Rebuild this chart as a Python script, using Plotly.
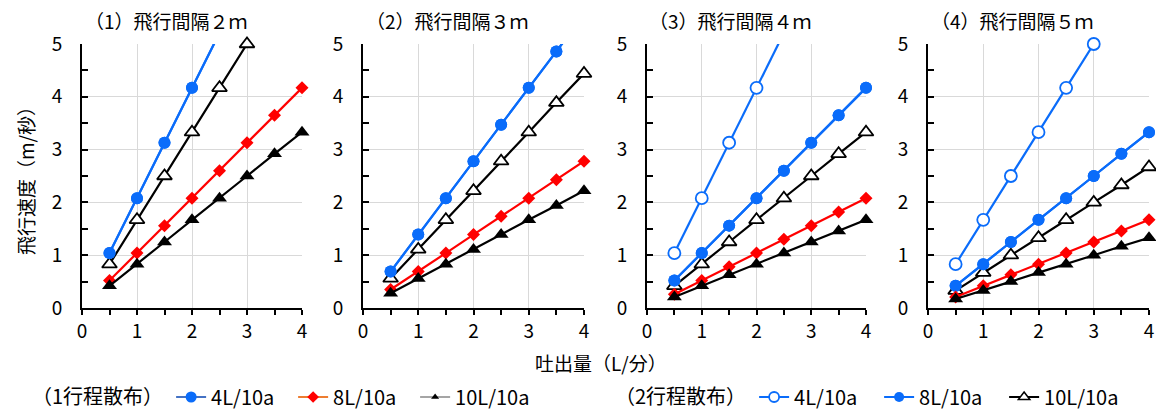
import plotly.graph_objects as go

# ---------------- data ----------------
x_flow = [0.5, 1.0, 1.5, 2.0, 2.5, 3.0, 3.5, 4.0]
panel_titles = ["（1）飛行間隔２ｍ", "（2）飛行間隔３ｍ", "（3）飛行間隔４ｍ", "（4）飛行間隔５ｍ"]
y_ticks = [0, 1, 2, 3, 4, 5]
x_ticks = [0, 1, 2, 3, 4]

# 1行程散布
one_4L = [
    [1.04, 2.08, 3.13, 4.17, 5.21, None, None, None],
    [0.69, 1.39, 2.08, 2.78, 3.47, 4.17, 4.86, 5.56],
    [0.52, 1.04, 1.56, 2.08, 2.60, 3.13, 3.65, 4.17],
    [0.42, 0.83, 1.25, 1.67, 2.08, 2.50, 2.92, 3.33],
]
one_8L = [
    [0.52, 1.04, 1.56, 2.08, 2.60, 3.13, 3.65, 4.17],
    [0.35, 0.69, 1.04, 1.39, 1.74, 2.08, 2.43, 2.78],
    [0.26, 0.52, 0.78, 1.04, 1.30, 1.56, 1.82, 2.08],
    [0.21, 0.42, 0.63, 0.83, 1.04, 1.25, 1.46, 1.67],
]
one_10L = [
    [0.42, 0.83, 1.25, 1.67, 2.08, 2.50, 2.92, 3.33],
    [0.28, 0.56, 0.83, 1.11, 1.39, 1.67, 1.94, 2.22],
    [0.21, 0.42, 0.63, 0.83, 1.04, 1.25, 1.46, 1.67],
    [0.17, 0.33, 0.50, 0.67, 0.83, 1.00, 1.17, 1.33],
]
# 2行程散布
two_4L = [
    None,
    None,
    [1.04, 2.08, 3.13, 4.17, 5.21, None, None, None],
    [0.83, 1.67, 2.50, 3.33, 4.17, 5.00, 5.83, None],
]
two_8L = [
    [1.04, 2.08, 3.13, 4.17, 5.21, None, None, None],
    [0.69, 1.39, 2.08, 2.78, 3.47, 4.17, 4.86, 5.56],
    [0.52, 1.04, 1.56, 2.08, 2.60, 3.13, 3.65, 4.17],
    [0.42, 0.83, 1.25, 1.67, 2.08, 2.50, 2.92, 3.33],
]
two_10L = [
    [0.83, 1.67, 2.50, 3.33, 4.17, 5.00, 5.83, None],
    [0.56, 1.11, 1.67, 2.22, 2.78, 3.33, 3.89, 4.44],
    [0.42, 0.83, 1.25, 1.67, 2.08, 2.50, 2.92, 3.33],
    [0.33, 0.67, 1.00, 1.33, 1.67, 2.00, 2.33, 2.67],
]

# ---------------- styling ----------------
FONT = "Noto Sans CJK JP"
BLUE = "#0A6CFA"
RED = "#FF0000"
BLACK = "#000000"
Y_MAX = 5

W, H = 1156, 412
L_PX, R_PX, T_PX, B_PX = 82, 1149, 44, 308
plot_w = R_PX - L_PX
plot_h = B_PX - T_PX
panel_px = [(82, 302), (363, 584), (647, 866), (928, 1149)]
domains = [[(a - L_PX) / plot_w, (b - L_PX) / plot_w] for a, b in panel_px]


def px_x(p):
    return (p - L_PX) / plot_w


def px_y(p):
    return (B_PX - p) / plot_h


fig = go.Figure()

styles = {
    "two_10L": dict(line=dict(color=BLACK, width=2.2),
                    marker=dict(symbol="triangle-up", size=13, color="white",
                                line=dict(color=BLACK, width=1.8))),
    "two_4L": dict(line=dict(color=BLUE, width=2.2),
                   marker=dict(symbol="circle", size=12, color="white",
                               line=dict(color=BLUE, width=1.8))),
    "two_8L": dict(line=dict(color=BLUE, width=2.2),
                   marker=dict(symbol="circle", size=12, color=BLUE,
                               line=dict(color=BLUE, width=0))),
    "one_4L": dict(line=dict(color=BLUE, width=2.2),
                   marker=dict(symbol="circle", size=12, color=BLUE,
                               line=dict(color=BLUE, width=0))),
    "one_8L": dict(line=dict(color=RED, width=2.2),
                   marker=dict(symbol="diamond", size=10, color=RED,
                               line=dict(color=RED, width=0))),
    "one_10L": dict(line=dict(color=BLACK, width=2.2),
                    marker=dict(symbol="triangle-up", size=13, color=BLACK,
                                line=dict(color=BLACK, width=0))),
}
series_order = [("two_10L", two_10L), ("two_4L", two_4L), ("two_8L", two_8L),
                ("one_4L", one_4L), ("one_8L", one_8L), ("one_10L", one_10L)]

for i in range(4):
    xa = "x" if i == 0 else f"x{i+1}"
    ya = "y" if i == 0 else f"y{i+1}"
    for key, data in series_order:
        vals = data[i]
        if vals is None:
            continue
        st = styles[key]
        mk = dict(st["marker"])
        mk["opacity"] = [1 if (v is not None and v <= Y_MAX + 1e-6) else 0 for v in vals]
        fig.add_trace(go.Scatter(
            x=x_flow, y=vals, mode="lines+markers", xaxis=xa, yaxis=ya,
            line=st["line"], marker=mk, cliponaxis=False, showlegend=False,
            hoverinfo="skip"))

# legend entries
leg_items = [
    ("legend", "4L/10a", dict(color="#4472C4", width=2.2),
     dict(symbol="circle", size=11, color=BLUE)),
    ("legend", "8L/10a", dict(color="#ED7D31", width=2.2),
     dict(symbol="diamond", size=9, color=RED)),
    ("legend", "10L/10a", dict(color="#A5A5A5", width=2.2),
     dict(symbol="triangle-up", size=7, color=BLACK)),
    ("legend2", "4L/10a", dict(color=BLUE, width=2.2),
     dict(symbol="circle", size=10, color="white", line=dict(color=BLUE, width=1.8))),
    ("legend2", "8L/10a", dict(color=BLUE, width=2.2),
     dict(symbol="circle", size=10, color=BLUE)),
    ("legend2", "10L/10a", dict(color=BLACK, width=2.2),
     dict(symbol="triangle-up", size=10, color="white", line=dict(color=BLACK, width=1.5))),
]
for lg, name, ln, mk in leg_items:
    fig.add_trace(go.Scatter(x=[None], y=[None], mode="lines+markers", name=name,
                             line=ln, marker=mk, legend=lg, showlegend=True))

axis_common = dict(showline=True, linecolor=BLACK, linewidth=2, zeroline=False,
                   showgrid=True, gridcolor="#D9D9D9", gridwidth=1,
                   tickfont=dict(family=FONT, size=19, color=BLACK),
                   tickcolor=BLACK, tickwidth=1.5, layer="below traces")

layout = dict(
    width=W, height=H,
    margin=dict(l=L_PX, r=W - R_PX, t=T_PX, b=H - B_PX, autoexpand=False),
    paper_bgcolor="white", plot_bgcolor="white",
    font=dict(family=FONT, color=BLACK),
)
for i in range(4):
    xk = "xaxis" if i == 0 else f"xaxis{i+1}"
    yk = "yaxis" if i == 0 else f"yaxis{i+1}"
    layout[xk] = dict(axis_common, domain=domains[i], range=[0, 4],
                      tickvals=x_ticks, ticks="outside", ticklen=5,
                      minor=dict(dtick=0.5, ticks="outside", ticklen=5, tickcolor=BLACK,
                                 tickwidth=1.5, showgrid=False),
                      anchor="y" if i == 0 else f"y{i+1}")
    layout[yk] = dict(axis_common, domain=[0, 1], range=[0, 5],
                      tickvals=y_ticks, ticks="inside", ticklen=6,
                      minor=dict(dtick=0.5, ticks="inside", ticklen=6, tickcolor=BLACK,
                                 tickwidth=1.5, showgrid=False),
                      ticklabelstandoff=14,
                      anchor="x" if i == 0 else f"x{i+1}")

annotations = []
for i, t in enumerate(panel_titles):
    cx = (domains[i][0] + domains[i][1]) / 2
    annotations.append(dict(text=t, x=cx, y=px_y(20), xref="paper", yref="paper",
                            xanchor="center", yanchor="middle", xshift=-26,
                            showarrow=False, font=dict(family=FONT, size=19, color=BLACK)))
annotations.append(dict(text="吐出量（L/分）", x=px_x(601), y=px_y(362), xref="paper",
                        yref="paper", xanchor="center", yanchor="middle", showarrow=False,
                        font=dict(family=FONT, size=19, color=BLACK)))
annotations.append(dict(text="飛行速度（m/秒）", x=px_x(25), y=px_y(176), xref="paper",
                        yref="paper", xanchor="center", yanchor="middle", textangle=-90,
                        showarrow=False, font=dict(family=FONT, size=19, color=BLACK)))
layout["annotations"] = annotations

leg_common = dict(orientation="h", yanchor="middle", y=px_y(397), xanchor="left",
                  font=dict(family=FONT, size=20, color=BLACK), bgcolor="rgba(0,0,0,0)",
                  itemwidth=30, tracegroupgap=0)
layout["legend"] = dict(leg_common, x=px_x(30), entrywidth=77,
                        title=dict(text="（1行程散布）", side="left",
                                   font=dict(family=FONT, size=20, color=BLACK)))
layout["legend2"] = dict(leg_common, x=px_x(613), entrywidth=80,
                         title=dict(text="（2行程散布）", side="left",
                                    font=dict(family=FONT, size=20, color=BLACK)))

fig.update_layout(layout)
fig.write_html("out.html")
